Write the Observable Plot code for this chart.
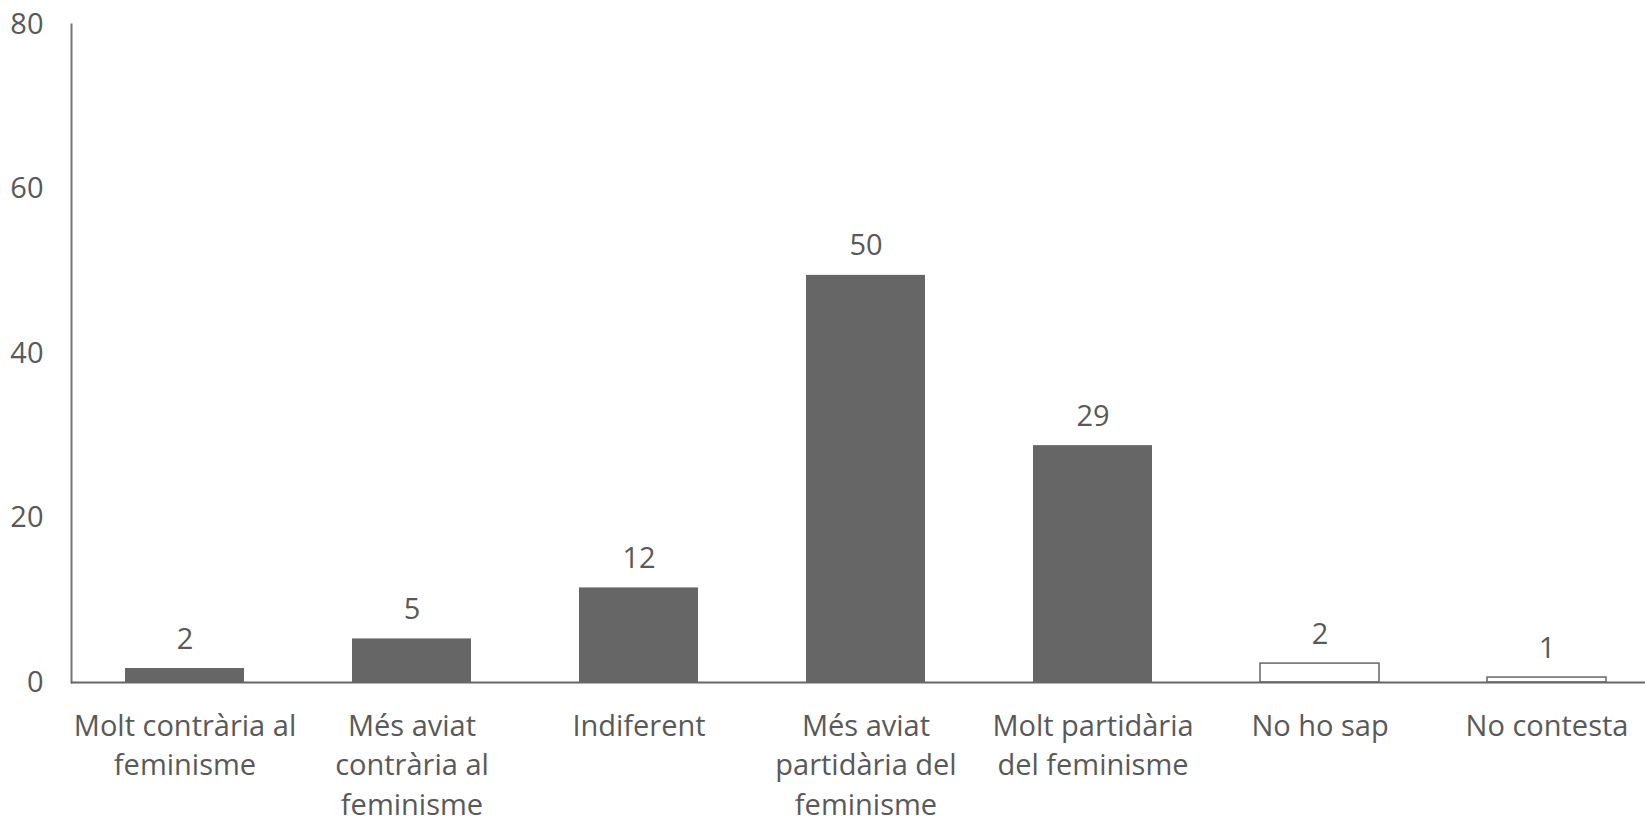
<!DOCTYPE html>
<html>
<head>
<meta charset="utf-8">
<script src="https://cdn.jsdelivr.net/npm/d3@7"></script>
<script src="https://cdn.jsdelivr.net/npm/@observablehq/plot@0.6"></script>
<style>
  html, body { margin: 0; padding: 0; background: #fff; }
  #chart svg { display: block; }
</style>
</head>
<body>
<div id="chart"></div>
<script>
const categories = [
  "Molt contrària al feminisme",
  "Més aviat contrària al feminisme",
  "Indiferent",
  "Més aviat partidària del feminisme",
  "Molt partidària del feminisme",
  "No ho sap",
  "No contesta"
];
const tickLabels = [
  "Molt contrària al\nfeminisme",
  "Més aviat\ncontrària al\nfeminisme",
  "Indiferent",
  "Més aviat\npartidària del\nfeminisme",
  "Molt partidària\ndel feminisme",
  "No ho sap",
  "No contesta"
];
const values = [1.7, 5.3, 11.5, 49.5, 28.8, 2.3, 0.6];
const valueLabels = ["2", "5", "12", "50", "29", "2", "1"];
const hollow = [false, false, false, false, false, true, true];
const yTicks = [0, 20, 40, 60, 80];

const data = categories.map((c, i) => ({
  category: c, value: values[i], label: valueLabels[i], hollow: hollow[i]
}));
const labelOf = new Map(categories.map((c, i) => [c, tickLabels[i]]));

const textColor = "#595959";
const font = "'Open Sans', sans-serif";

const chart = Plot.plot({
  width: 1645,
  height: 817,
  marginLeft: 71,
  marginRight: 0,
  marginTop: 24,
  marginBottom: 135,
  style: { fontFamily: font, background: "#fff" },
  x: { domain: categories, range: [71, 1660], paddingInner: 0.476, paddingOuter: 0.238, label: null },
  y: { domain: [0, 80], label: null },
  marks: [
    Plot.barY(data, {
      x: "category", y: "value",
      fill: d => d.hollow ? "#ffffff" : "#666666",
      stroke: d => d.hollow ? "#666666" : "none",
      strokeWidth: 1.5,
      insetTop: 0, insetBottom: 0
    }),
    Plot.frame({ anchor: "left", stroke: "#777777", strokeWidth: 2 }),
    Plot.ruleY([0], { stroke: "#666666", strokeWidth: 2 }),
    Plot.text(data, {
      x: "category", y: "value", text: "label",
      lineAnchor: "bottom", dy: -20,
      fontSize: 29, fill: textColor
    }),
    Plot.axisY({
      ticks: yTicks, tickSize: 0, tickPadding: 28,
      fontSize: 29, color: textColor, label: null
    }),
    Plot.axisX({
      tickSize: 0, tickPadding: 25, fontSize: 29, color: textColor,
      lineHeight: 1.37, tickFormat: d => labelOf.get(d), label: null
    })
  ]
});
document.getElementById("chart").append(chart);
</script>
</body>
</html>
